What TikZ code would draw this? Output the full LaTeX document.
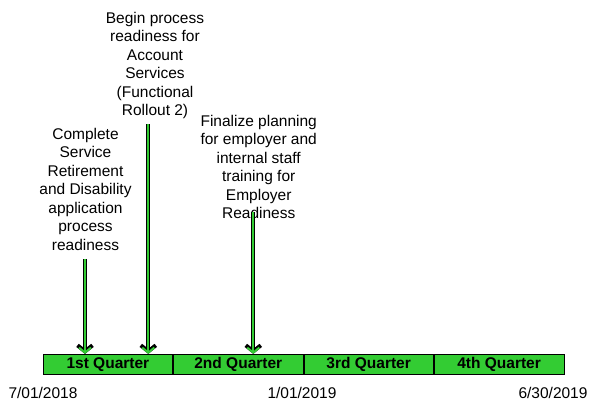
\documentclass[tikz,border=0pt]{standalone}
\usepackage{fontspec}
\setmainfont{Liberation Sans}
\usepackage{tikz}
\usetikzlibrary{positioning,arrows.meta}

\definecolor{bargreen}{RGB}{51,204,51}

\tikzset{
  quarter/.style={draw=black, line width=0.8pt, fill=bargreen, minimum width=129.6pt,
    minimum height=20pt, inner sep=0pt, font=\fontsize{15.5}{18.5}\selectfont\bfseries},
  note/.style={align=center, inner sep=0pt, anchor=north,
    font=\fontsize{15.5}{18.5}\selectfont},
  datelabel/.style={inner sep=0pt, font=\fontsize{15.5}{18.5}\selectfont},
  marker/.style={draw=black, line width=4pt,
    -{Straight Barb[length=6pt 0 0, width=15pt 0 0]},
    postaction={draw=bargreen, line width=2pt,
      -{Straight Barb[length=5pt 0 0, width=12pt 0 0]}}}
}

\begin{document}
\begin{tikzpicture}[x=1pt, y=1pt]
  \useasboundingbox (0,0) rectangle (589,400);

  % timeline
  \node [quarter, anchor=west] (q1) at (42.7,35.7) {1st Quarter};
  \node [quarter, right=0pt of q1] (q2) {2nd Quarter};
  \node [quarter, right=0pt of q2] (q3) {3rd Quarter};
  \node [quarter, right=0pt of q3] (q4) {4th Quarter};

  \node [datelabel] (d1) at (43,7.5) {7/01/2018};
  \node [datelabel] (d2) at (302,7.5) {1/01/2019};
  \node [datelabel] (d3) at (553,7.5) {6/30/2019};

  % milestones
  \coordinate (t1) at (85,141);
  \coordinate (t2) at (148.3,276);
  \coordinate (t3) at (253.3,188);

  \node [note] (n1) at (85.5,272) {Complete\\Service\\Retirement\\and Disability\\application\\process\\readiness};
  \node [note] (n2) at (155,388) {Begin process\\readiness for\\Account\\Services\\(Functional\\Rollout 2)};
  \node [note] (n3) at (258.7,285) {Finalize planning\\for employer and\\internal staff\\training for\\Employer\\Readiness};

  \draw [marker] (t1) -- (t1 |- q1.north);
  \draw [marker] (t2) -- (t2 |- q1.north);
  \draw [marker] (t3) -- (t3 |- q2.north);
\end{tikzpicture}
\end{document}
